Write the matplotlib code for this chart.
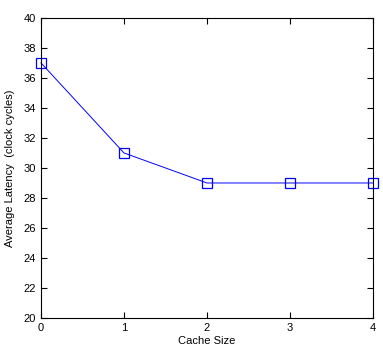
import matplotlib
matplotlib.use("Agg")
import matplotlib.pyplot as plt

cache_size = [0, 1, 2, 3, 4]
latency = [37, 31, 29, 29, 29]
x_ticks = [0, 1, 2, 3, 4]
y_ticks = [20, 22, 24, 26, 28, 30, 32, 34, 36, 38, 40]

plt.rcParams['font.family'] = ['Liberation Sans', 'DejaVu Sans']
fig = plt.figure(figsize=(3.83, 3.57), dpi=100)
ax = fig.add_axes([0.107, 0.109, 0.867, 0.841])
ax.plot(cache_size, latency, color='blue', linewidth=0.7, marker='s', markersize=6.5,
        markerfacecolor='none', markeredgecolor='blue', markeredgewidth=0.9, clip_on=False)
ax.set_xlim(0, 4)
ax.set_ylim(20, 40)
ax.set_xticks(x_ticks)
ax.set_yticks(y_ticks)
ax.tick_params(direction='in', top=True, right=True, labelsize=8, length=4, width=0.8, pad=3.5)
for s in ax.spines.values():
    s.set_linewidth(0.8)
ax.set_xlabel('Cache Size', fontsize=8, labelpad=2)
ax.set_ylabel('Average Latency  (clock cycles)', fontsize=8, labelpad=6)
fig.savefig('out.png', dpi=100)
